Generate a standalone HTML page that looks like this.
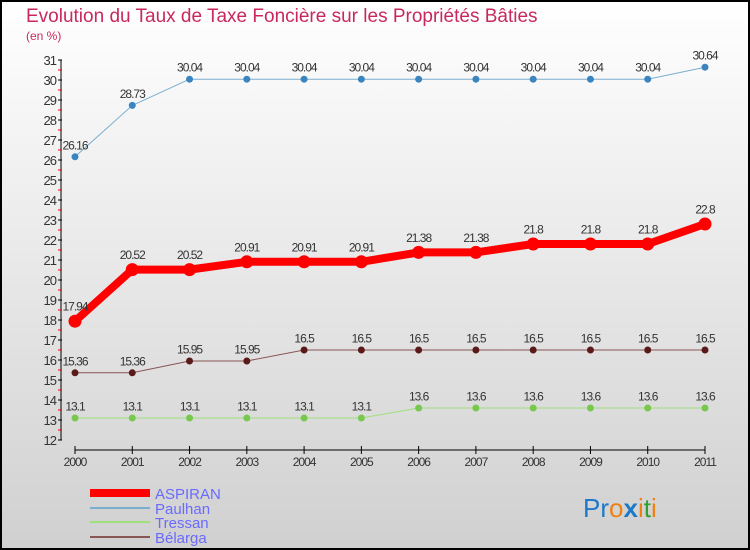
<!DOCTYPE html>
<html><head><meta charset="utf-8">
<style>
html,body{margin:0;padding:0;}
body{width:750px;height:550px;overflow:hidden;font-family:"Liberation Sans",sans-serif;}
</style></head>
<body>
<svg id="chart" width="750" height="550" xmlns="http://www.w3.org/2000/svg" style="display:block">
<defs><linearGradient id="bg" x1="0" y1="0" x2="0" y2="1"><stop offset="0" stop-color="#ffffff"/><stop offset="1" stop-color="#d0d0d0"/></linearGradient></defs>
<rect x="1" y="1" width="748" height="548" fill="url(#bg)" stroke="#000" stroke-width="2"/>
<text x="26" y="22" font-size="19" fill="#c8285f">Evolution du Taux de Taxe Foncière sur les Propriétés Bâties</text>
<text x="26" y="40" font-size="12" fill="#c8285f">(en %)</text>
<g id="axes"></g>
<g id="series"></g>
<g font-size="15" fill="#6a6aff">
<rect x="90" y="489" width="60" height="8" fill="#f00"/>
<text x="155" y="499">ASPIRAN</text>
<rect x="90" y="507" width="60" height="2" fill="#7aaed0"/>
<text x="155" y="514">Paulhan</text>
<rect x="90" y="521" width="60" height="2" fill="#9ee07a"/>
<text x="155" y="528">Tressan</text>
<rect x="90" y="536" width="60" height="2" fill="#8a5555"/>
<text x="155" y="543">Bélarga</text>
</g>
<text x="583" y="517" font-size="26" font-family="Liberation Sans,sans-serif"><tspan fill="#1e78c8">Pr</tspan><tspan fill="#f08010">o</tspan><tspan fill="#1e78c8" font-weight="bold">x</tspan><tspan fill="#f08010">i</tspan><tspan fill="#30a030">t</tspan><tspan fill="#f08010">i</tspan></text>
</svg>
<script>
const years=["2000","2001","2002","2003","2004","2005","2006","2007","2008","2009","2010","2011"];
const aspiran=[17.94,20.52,20.52,20.91,20.91,20.91,21.38,21.38,21.8,21.8,21.8,22.8];
const paulhan=[26.16,28.73,30.04,30.04,30.04,30.04,30.04,30.04,30.04,30.04,30.04,30.64];
const tressan=[13.1,13.1,13.1,13.1,13.1,13.1,13.6,13.6,13.6,13.6,13.6,13.6];
const belarga=[15.36,15.36,15.95,15.95,16.5,16.5,16.5,16.5,16.5,16.5,16.5,16.5];
const yTicks=[12,13,14,15,16,17,18,19,20,21,22,23,24,25,26,27,28,29,30,31];
const NS="http://www.w3.org/2000/svg";
const x=i=>75+i*(630/(years.length-1));
const y=v=>440-(v-12)*20;
function mk(tag,attrs,parent){const e=document.createElementNS(NS,tag);for(const k in attrs)e.setAttribute(k,attrs[k]);parent.appendChild(e);return e;}
const axes=document.getElementById('axes');
let yl=mk('line',{x1:61,y1:60,x2:61,y2:440,stroke:'#000','stroke-width':1},axes);


yTicks.forEach(t=>{
 let l=mk('line',{x1:58,y1:y(t),x2:62,y2:y(t),stroke:'#000'},axes);
 
 
 if(t<31){let m=mk('line',{x1:58,y1:y(t+0.5),x2:62,y2:y(t+0.5),stroke:'#f00'},axes);
 
 }
 let tx=mk('text',{x:56,y:y(t)+5,'text-anchor':'end','font-size':13,fill:'#333','letter-spacing':'-1'},axes);
 
 
 tx.textContent=t;
});
let xl=mk('line',{x1:75,y1:450,x2:705,y2:450,stroke:'#000'},axes);


years.forEach((yr,i)=>{
 let l=mk('line',{x1:x(i),y1:446,x2:x(i),y2:454,stroke:'#000'},axes);
 
 
 let tx=mk('text',{x:x(i),y:466,'text-anchor':'middle','font-size':12,fill:'#333','letter-spacing':'-1'},axes);
 
 
 tx.textContent=yr;
});
const ser=document.getElementById('series');
function draw(name,vals,color,dot,w,r){
 const g=mk('g',{},ser);
 
 
 const p=mk('polyline',{points:vals.map((v,i)=>x(i)+','+y(v)).join(' '),fill:'none',stroke:color,'stroke-width':w,'stroke-linejoin':'round'},g);
 
 
 vals.forEach((v,i)=>{
  const c=mk('circle',{cx:x(i),cy:y(v),r:r,fill:dot},g);
  
  
  const t=mk('text',{x:x(i),y:y(v)-(r+4),'text-anchor':'middle','font-size':12,fill:'#333','letter-spacing':'-1'},g);
  
  
  t.textContent=v;
 });
}
draw('paulhan',paulhan,'#7aaed0','#3a84c0',1,3.5);
draw('tressan',tressan,'#9ee07a','#78c850',1,3.5);
draw('belarga',belarga,'#8a5555','#5a1a1a',1,3.5);
draw('aspiran',aspiran,'#f00','#f00',8,6.5);
</script>
</body></html>
